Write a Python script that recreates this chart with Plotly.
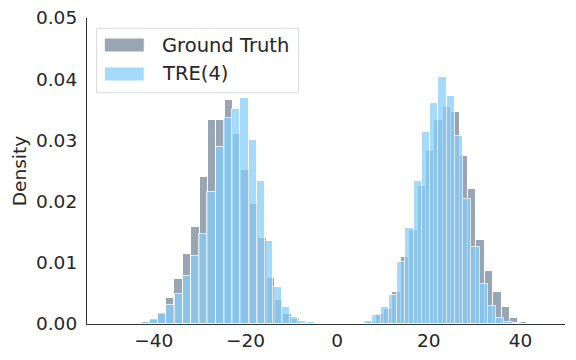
import plotly.graph_objects as go

# ── data (density per histogram bin) ────────────────────────────────────────
GT_BIN_START = -44.66   # left edge of first Ground Truth bin
GT_BIN_WIDTH = 1.830
GT_DENSITY = [
    0.0001, 0.0004, 0.0007, 0.0017, 0.0042, 0.0073, 0.0114, 0.0159, 0.0241,
    0.0334, 0.0334, 0.0366, 0.0310, 0.0252, 0.0196, 0.0140, 0.0075, 0.0040,
    0.0017, 0.0008, 0.0002,
    0, 0, 0, 0, 0, 0, 0,
    0.0004, 0.0017, 0.0025, 0.0053, 0.0110, 0.0154, 0.0226, 0.0283, 0.0333,
    0.0355, 0.0347, 0.0275, 0.0220, 0.0137, 0.0087, 0.0052, 0.0028, 0.0010,
    0.0004, 0.0002,
]

TRE_BIN_START = -44.46  # left edge of first TRE(4) bin
TRE_BIN_WIDTH = 1.798
TRE_DENSITY = [
    0.0001, 0.0004, 0.0008, 0.0018, 0.0031, 0.0049, 0.0078, 0.0111, 0.0147,
    0.0215, 0.0289, 0.0336, 0.0352, 0.0370, 0.0301, 0.0234, 0.0135, 0.0061,
    0.0027, 0.0012, 0.0005, 0.0003, 0.0001,
    0, 0, 0, 0, 0,
    0.0005, 0.0014, 0.0027, 0.0048, 0.0102, 0.0157, 0.0233, 0.0313, 0.0361,
    0.0404, 0.0373, 0.0308, 0.0204, 0.0126, 0.0065, 0.0030, 0.0009, 0.0004,
    0.0001,
]

X_TICKS = [-40, -20, 0, 20, 40]
Y_TICKS = [0.00, 0.01, 0.02, 0.03, 0.04, 0.05]

GT_COLOR = "#778899"   # lightslategray
TRE_COLOR = "#87CEFA"  # lightskyblue
ALPHA = 0.75
_FONT = dict(family="DejaVu Sans, sans-serif", size=18.5, color="#262626")


def _bins(start, width, dens):
    xs, ys = [], []
    for i, d in enumerate(dens):
        if d > 0:
            xs.append(start + width * (i + 0.5))
            ys.append(d)
    return xs, ys


fig = go.Figure()
for name, start, width, dens, color in [
    ("Ground Truth", GT_BIN_START, GT_BIN_WIDTH, GT_DENSITY, GT_COLOR),
    ("TRE(4)", TRE_BIN_START, TRE_BIN_WIDTH, TRE_DENSITY, TRE_COLOR),
]:
    xs, ys = _bins(start, width, dens)
    fig.add_trace(go.Bar(
        x=xs, y=ys, width=width, name=name, opacity=ALPHA,
        marker=dict(color=color, line=dict(color="white", width=1)),
        showlegend=False,
    ))

# ── hand-made legend (matplotlib-like wide patches) ──────────────────────────
fig.add_shape(type="rect", xref="paper", yref="paper",
              x0=0.0201, x1=0.4424, y0=0.7559, y1=0.9663,
              line=dict(color="#d9d9d9", width=1), fillcolor="rgba(255,255,255,0.8)",
              layer="above")
for (name, color), (py0, py1) in zip(
        [("Ground Truth", GT_COLOR), ("TRE(4)", TRE_COLOR)],
        [(0.8889, 0.9346), (0.7941, 0.8399)]):
    fig.add_shape(type="rect", xref="paper", yref="paper",
                  x0=0.0362, x1=0.1198, y0=py0, y1=py1, opacity=ALPHA,
                  line=dict(color="white", width=1), fillcolor=color, layer="above")
    fig.add_annotation(xref="paper", yref="paper", x=0.1533, y=(py0 + py1) / 2,
                       text=name, showarrow=False, xanchor="left", yanchor="middle",
                       font=dict(family="DejaVu Sans, sans-serif", size=19.5, color="#262626"))

# page body keeps its default 8px margin, so the figure is 8px smaller each way
fig.update_layout(
    barmode="overlay",
    bargap=0,
    width=568, height=352,
    margin=dict(l=79, r=11, t=10, b=36),
    plot_bgcolor="white", paper_bgcolor="white",
    font=_FONT,
    xaxis=dict(range=[-54.56, 49.70], tickvals=X_TICKS, showgrid=False,
               zeroline=False, showline=True, linecolor="#333333", linewidth=1.25,
               ticks="", automargin=False, ticklabeloverflow="allow", tickfont=_FONT),
    yaxis=dict(range=[0, 0.05], tickvals=Y_TICKS, tickformat=".2f", showgrid=False,
               zeroline=False, showline=True, linecolor="#333333", linewidth=1.25,
               ticks="outside", ticklen=5, tickcolor="rgba(0,0,0,0)", tickfont=_FONT,
               automargin=False, ticklabeloverflow="allow",
               title=dict(text="Density", font=dict(family="DejaVu Sans, sans-serif",
                                                    size=18.5, color="#262626"),
                          standoff=4)),
)

fig.write_html("out.html")
